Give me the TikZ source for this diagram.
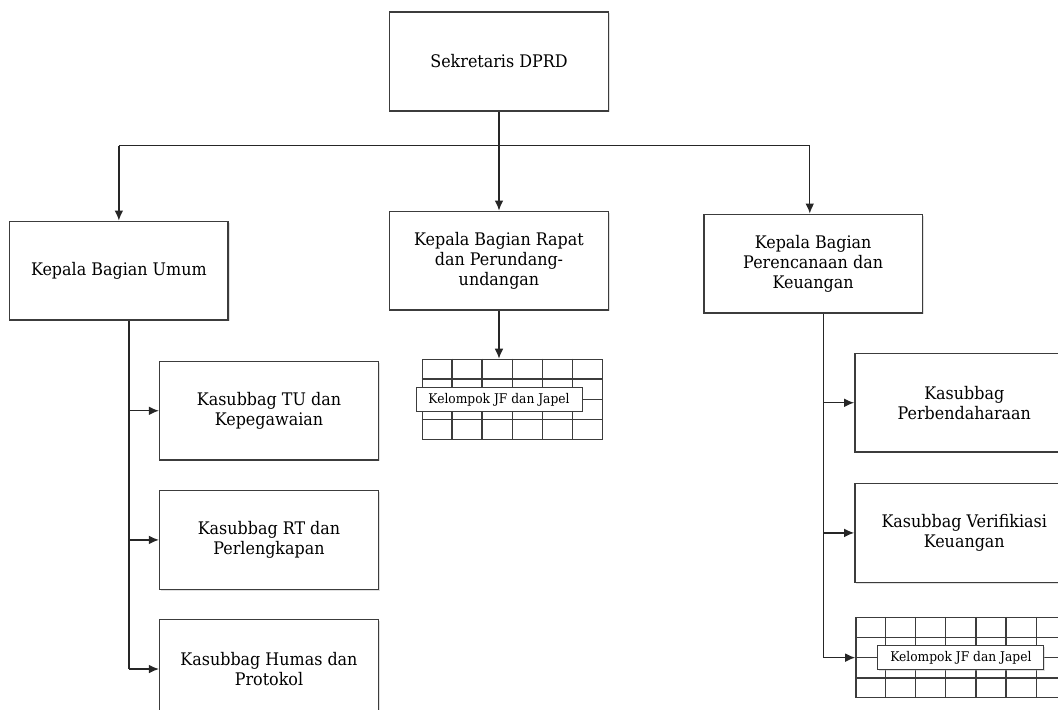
\documentclass[tikz,border=0pt]{standalone}
\usepackage{fontspec}
\setmainfont[FakeStretch=0.92]{DejaVu Serif}
\usepackage{xcolor}
\usetikzlibrary{arrows.meta, positioning, calc, shadows}
\definecolor{boxline}{RGB}{60,60,60}

\begin{document}
\begin{tikzpicture}[
    x = 0.75pt, y = -0.75pt, % one unit = one pixel
    > = {Latex[length=7.5pt, width=6.5pt]}, % arrow head style
    link/.style={draw=black!85, line width=1pt},
    unit/.style={rectangle, draw=boxline, line width=1.1pt, fill=white,
      minimum width=164pt, minimum height=74pt, inner sep=0pt, align=center,
      font=\fontsize{13}{14.8}\selectfont,
      drop shadow={shadow xshift=1pt, shadow yshift=-1pt, fill=black!30, opacity=0.4}},
    jfgrid/.style={rectangle, draw=boxline, line width=1pt, inner sep=0pt},
    gridline/.style={draw=boxline, line width=1pt},
    jflabel/.style={rectangle, draw=boxline, line width=0.7pt, fill=white,
      minimum width=124.5pt, minimum height=18pt, inner sep=0pt,
      font=\fontsize{10}{11}\selectfont,
      drop shadow={shadow xshift=0.8pt, shadow yshift=-0.8pt, fill=black!30, opacity=0.4}}
  ]

  \clip (0,0) rectangle (1058,710);

  % top
  \node[unit] (sek) at (499,61.5) {Sekretaris DPRD};

  % kepala bagian
  \node[unit] (rapat) [below = 74.25pt of sek] {Kepala Bagian Rapat\\dan Perundang-\\undangan};
  \node[unit] (umum) [left = 120pt of rapat, yshift=-7.5pt] {Kepala Bagian Umum};
  \node[unit] (renc) [right = 70.5pt of rapat, yshift=-2.25pt] {Kepala Bagian\\Perencanaan dan\\Keuangan};

  % kasubbag
  \node[unit] (tu) [below right = 30pt and -52.5pt of umum] {Kasubbag TU dan\\Kepegawaian};
  \node[unit] (rt) [below = 21.75pt of tu] {Kasubbag RT dan\\Perlengkapan};
  \node[unit] (humas) [below = 21.75pt of rt] {Kasubbag Humas dan\\Protokol};
  \node[unit] (bend) [below right = 29.25pt and -51.75pt of renc] {Kasubbag\\Perbendaharaan};
  \node[unit] (verif) [below = 22.5pt of bend] {Kasubbag Verifikiasi\\Keuangan};

  % kelompok JF
  \node[jfgrid, minimum width=135pt, minimum height=60pt] (g1) [below = 36pt of rapat, xshift=10pt] {};
  \node[jfgrid, minimum width=157.5pt, minimum height=60pt] (g2) [below right = 25.5pt and 0.75pt of verif.south west] {};
  \foreach \i in {1,...,5}
    \draw[gridline] ($(g1.north west)!\i/6!(g1.north east)$) -- ($(g1.south west)!\i/6!(g1.south east)$);
  \foreach \i in {1,...,6}
    \draw[gridline] ($(g2.north west)!\i/7!(g2.north east)$) -- ($(g2.south west)!\i/7!(g2.south east)$);
  \foreach \j in {1,2,3} {
    \draw[gridline] ($(g1.north west)!\j/4!(g1.south west)$) -- ($(g1.north east)!\j/4!(g1.south east)$);
    \draw[gridline] ($(g2.north west)!\j/4!(g2.south west)$) -- ($(g2.north east)!\j/4!(g2.south east)$);
  }
  \node[jflabel] (jf1) at (rapat |- g1) {Kelompok JF dan Japel};
  \node[jflabel] (jf2) at (g2) {Kelompok JF dan Japel};

  % connectors
  \coordinate (bus) at ($(sek.south)+(0,34)$);
  \coordinate (busL) at (bus -| umum.north);
  \coordinate (busR) at ([xshift=-2.5pt]bus -| renc.north);
  \coordinate (trunkU) at ([xshift=7.5pt]umum.south);
  \coordinate (trunkR) at ([xshift=7.9pt]renc.south);

  \draw[link] (sek.south) -- (bus);
  \draw[link] (busL) -- (busR);
  \draw[link, ->] (busL) -- (umum.north);
  \draw[link, ->] (bus) -- (rapat.north);
  \draw[link, ->] (busR) -- (busR |- renc.north);
  \draw[link, ->] (rapat.south) -- (rapat.south |- g1.north);

  \draw[link] (trunkU) -- (trunkU |- humas.west);
  \foreach \k in {tu, rt, humas}
    \draw[link, ->] (trunkU |- \k.west) -- (\k.west);
  \draw[link] (trunkR) -- (trunkR |- g2.west);
  \foreach \k in {bend, verif, g2}
    \draw[link, ->] (trunkR |- \k.west) -- (\k.west);
\end{tikzpicture}
\end{document}
